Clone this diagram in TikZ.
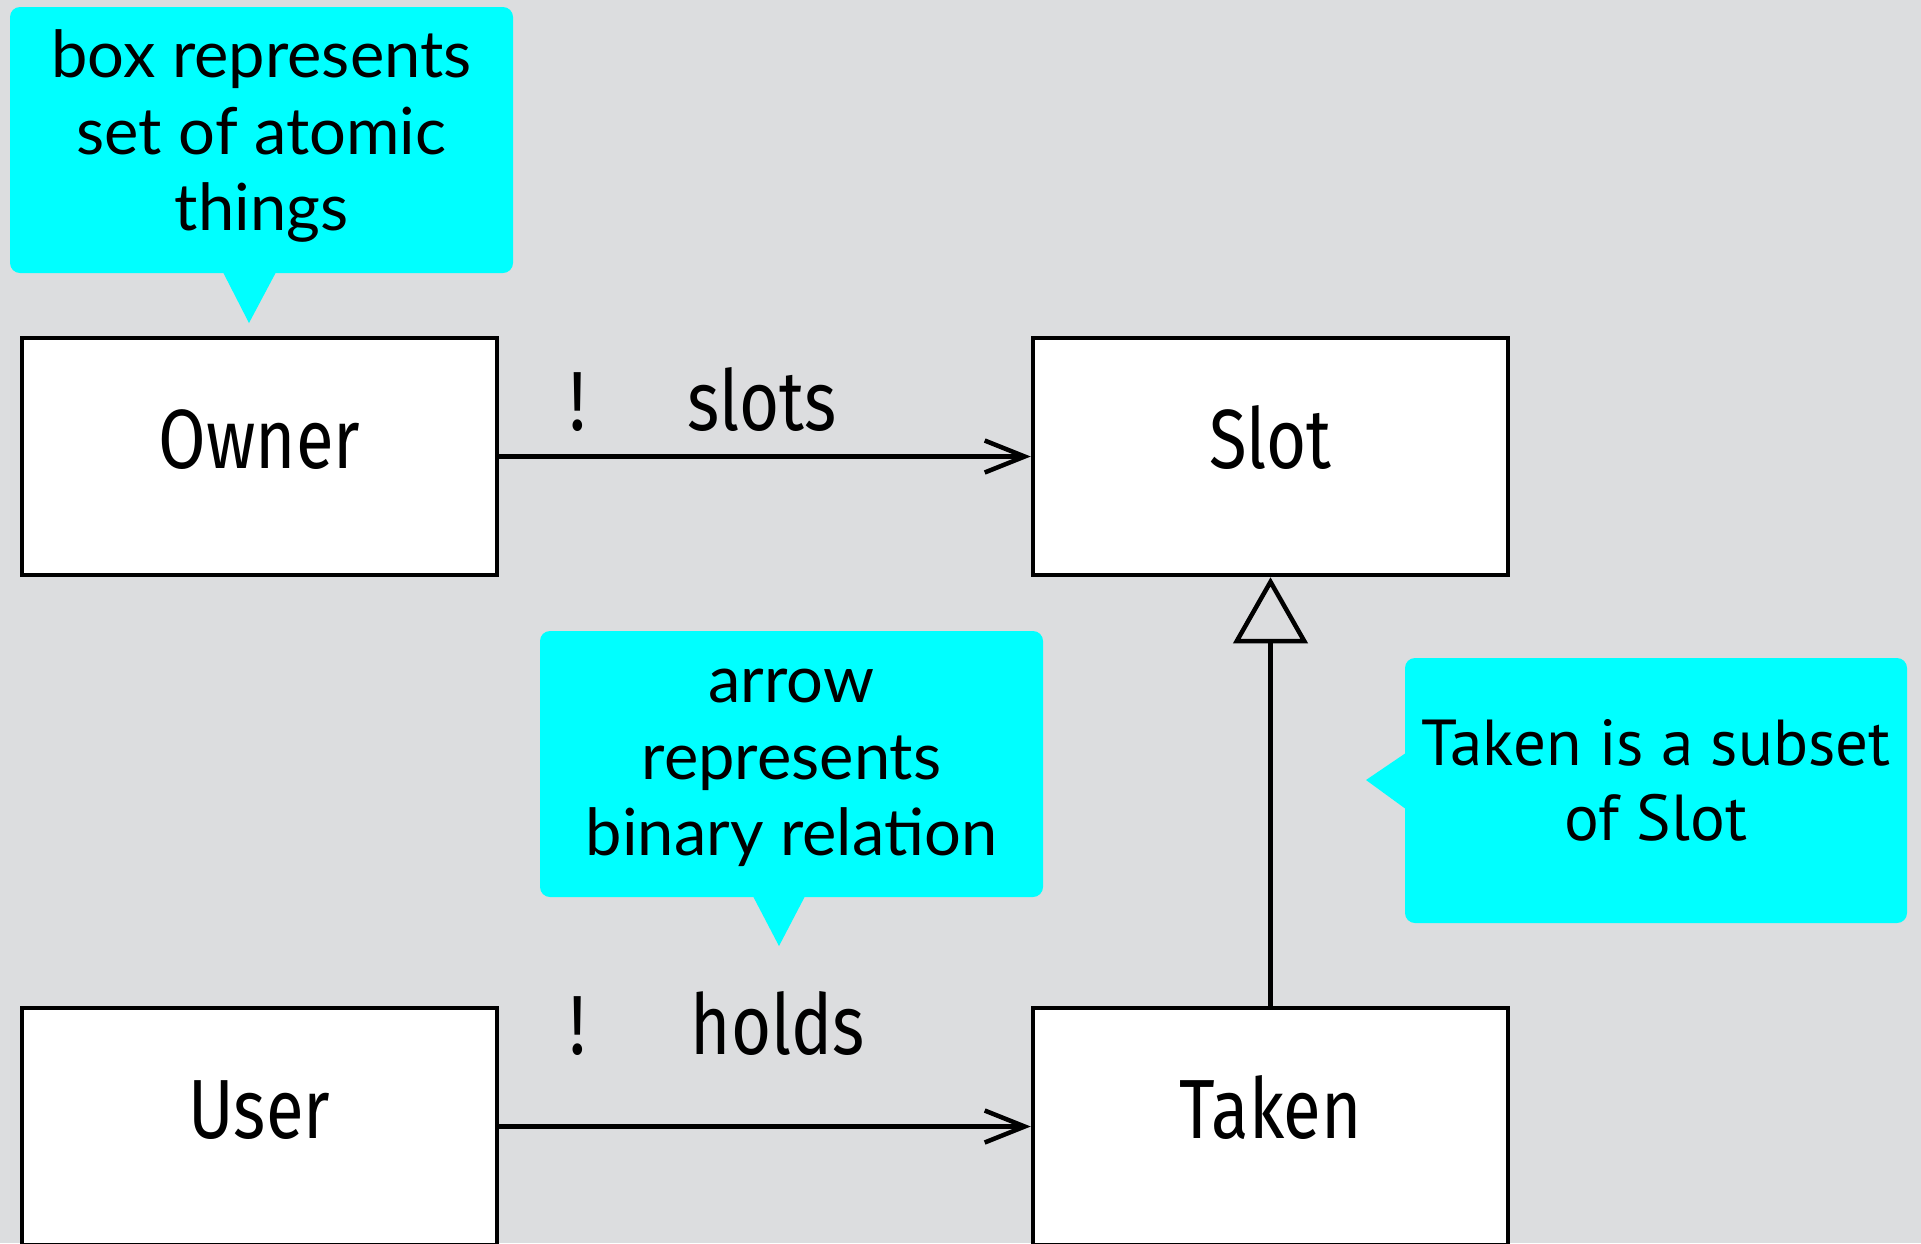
\documentclass[tikz,border=0pt]{standalone}
\usepackage{fontspec}
\setmainfont{Lato}
\newfontfamily\boxfont[FakeStretch=0.82]{Fira Sans}
\newfontfamily\notefont{PT Sans}
\usetikzlibrary{arrows.meta}
\definecolor{bg}{HTML}{DCDDDF}
\definecolor{notec}{HTML}{00FFFF}
\begin{document}
\begin{tikzpicture}[x=1pt,y=-1pt,
  cls/.style={draw=black, line width=4.5pt, fill=white, minimum width=475pt,
    minimum height=237pt, inner sep=0pt, font=\boxfont\fontsize{84}{90}\selectfont,
    text height=84pt, text depth=60pt},
  note/.style={fill=notec, rounded corners=10pt, minimum width=503pt,
    minimum height=266pt, inner sep=0pt},
  notetext/.style={inner sep=0pt, align=center, font=\fontsize{65}{76.6}\selectfont},
  lbl/.style={anchor=base, font=\boxfont\fontsize{84}{90}\selectfont},
  rel/.style={line width=4.5pt, -{Straight Barb[length=40pt,width=32pt]}},
  sub/.style={line width=4.5pt, -{Triangle[open,length=66pt,width=74pt]}}]
\useasboundingbox (0,0) rectangle (1921,1243);
\fill[bg] (0,0) rectangle (1921,1243);

\node[cls] (owner) at (259.5,456.5) {Owner};
\node[cls] (slot)  at (1270.5,456.5) {Slot};
\node[cls] (user)  at (259.5,1126.5) {User};
\node[cls] (taken) at (1270.5,1126.5) {Taken};

\draw[rel] (owner.east) -- (slot.west)
  node[lbl, pos=0.147, yshift=26pt] (ex1) {!}
  node[lbl, pos=0.494, yshift=26pt] (slots) {slots};
\draw[rel] (user.east) -- (taken.west)
  node[lbl, pos=0.147, yshift=72pt] (ex2) {!}
  node[lbl, pos=0.524, yshift=72pt] (holds) {holds};
\draw[sub] (taken.north) -- (slot.south);

\node[note] (c1) at (261.5,140) {};
\node[notetext] (c1t) at ([yshift=4pt]c1.center) {box represents\\set of atomic\\things};
\coordinate (t1) at (249,323);
\fill[notec] ([xshift=-38.5pt,yshift=1pt]c1.south) -- ([xshift=14.5pt,yshift=1pt]c1.south) -- (t1) -- cycle;

\node[note] (c2) at (791.5,764) {};
\node[notetext] (c2t) at ([yshift=-4pt]c2.center) {arrow\\represents\\binary relation};
\coordinate (t2) at (779,946);
\fill[notec] ([xshift=-38.5pt,yshift=1pt]c2.south) -- ([xshift=13.5pt,yshift=1pt]c2.south) -- (t2) -- cycle;

\node[note, minimum width=502pt, minimum height=265pt] (c3) at (1656,790.5) {};
\node[notetext, font=\notefont\fontsize{65}{75}\selectfont] (c3t) at ([yshift=10pt]c3.center) {Taken is a subset\\of Slot};
\coordinate (t3) at (1366,780);
\fill[notec] ([xshift=1pt,yshift=37.5pt]c3.west) -- ([xshift=1pt,yshift=-18.5pt]c3.west) -- (t3) -- cycle;
\end{tikzpicture}
\end{document}
